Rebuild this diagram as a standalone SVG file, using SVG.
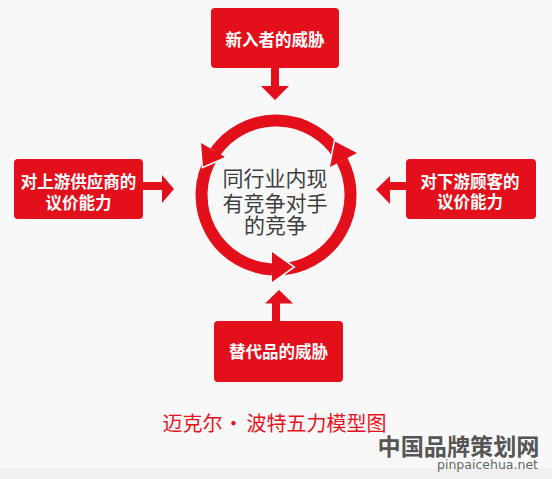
<svg xmlns="http://www.w3.org/2000/svg" width="552" height="479" viewBox="0 0 552 479">
<style>
.box{fill:#e30f1b;}
.red{fill:#e30f1b;}
.bt{font-family:"Noto Sans CJK SC","Noto Sans",sans-serif;font-size:16.5px;font-weight:bold;fill:#ffffff;text-anchor:middle;}
.ct{font-family:"Noto Sans CJK SC","Noto Sans",sans-serif;font-size:21px;fill:#3e3e3e;text-anchor:middle;}
.ring{fill:none;stroke:#e30f1b;stroke-width:12;}
.edge{fill:none;stroke:#ffffff;stroke-width:3;stroke-linejoin:miter;}
</style>
<rect x="0" y="0" width="552" height="479" fill="#f8f8f8"/>
<rect x="0" y="468" width="552" height="11" fill="#f0f0f0"/>

<g id="connectors">
  <!-- top arrow -->
  <path class="red" d="M271,68 H279 V86 H289 L275,100 L261,86 H271 Z"/>
  <!-- left arrow -->
  <path class="red" d="M143,182 H162 V175 L174,189 L162,203 V190 H143 Z"/>
  <!-- right arrow -->
  <path class="red" d="M406,182 H390 V176 L376,189.5 L390,204 V190 H406 Z"/>
  <!-- bottom arrow -->
  <path class="red" d="M272,321 V303.5 H265 L279,290 L293,303.5 H280 V321 Z"/>
</g>

<g id="cycle">
  <path class="ring" d="M338.5,154.4 A74.5,74.5 0 0 0 215.4,151.7"/>
  <path class="ring" d="M211.5,157.8 A74.5,74.5 0 0 0 272.1,269.4"/>
  <path class="ring" d="M278.6,269.5 A74.5,74.5 0 0 0 342.1,160.6"/>
  <path class="edge" d="M201,143 L203,166.5 L225,157"/>
  <path class="red" d="M201,143 L203,166.5 L225,157 Z"/>
  <path class="edge" d="M272,282 L293,267 L272,252"/>
  <path class="red" d="M272,282 L293,267 L272,252 Z"/>
  <path class="edge" d="M357,153 L335,141.5 L330,167"/>
  <path class="red" d="M357,153 L335,141.5 L330,167 Z"/>
</g>

<g id="center">
  <text class="ct" x="275" y="185.5">同行业内现</text>
  <text class="ct" x="275" y="210.5">有竞争对手</text>
  <text class="ct" x="275.5" y="233">的竞争</text>
</g>

<g id="node-top">
  <rect class="box" x="211" y="8" width="128" height="60" rx="4"/>
  <text class="bt" x="275" y="45.5">新入者的威胁</text>
</g>

<g id="node-left">
  <rect class="box" x="14" y="159" width="129" height="60" rx="4"/>
  <text class="bt" x="78.5" y="188">对上游供应商的</text>
  <text class="bt" x="78.5" y="208.5">议价能力</text>
</g>

<g id="node-right">
  <rect class="box" x="406" y="159" width="130" height="60" rx="4"/>
  <text class="bt" x="470" y="187.5">对下游顾客的</text>
  <text class="bt" x="470" y="208">议价能力</text>
</g>

<g id="node-bottom">
  <rect class="box" x="214" y="321" width="129" height="61" rx="4"/>
  <text class="bt" x="278.5" y="358">替代品的威胁</text>
</g>

<g id="title">
  <text font-family="'Noto Sans CJK SC','Noto Sans',sans-serif" font-size="20" fill="#e8101c"><tspan x="162.5" y="431">迈克尔</tspan><tspan x="223.5" y="431">·</tspan><tspan x="246.5" y="431">波特五力模型图</tspan></text>
</g>

<g id="watermark">
  <text x="377.5" y="455" font-family="'Noto Sans CJK SC',sans-serif" font-size="23" font-weight="bold" fill="#555555" textLength="162" lengthAdjust="spacingAndGlyphs">中国品牌策划网</text>
  <text x="437" y="468.5" font-family="'DejaVu Sans',sans-serif" font-size="12.5" fill="#666666" textLength="101" lengthAdjust="spacingAndGlyphs">pinpaicehua.net</text>
</g>
</svg>
